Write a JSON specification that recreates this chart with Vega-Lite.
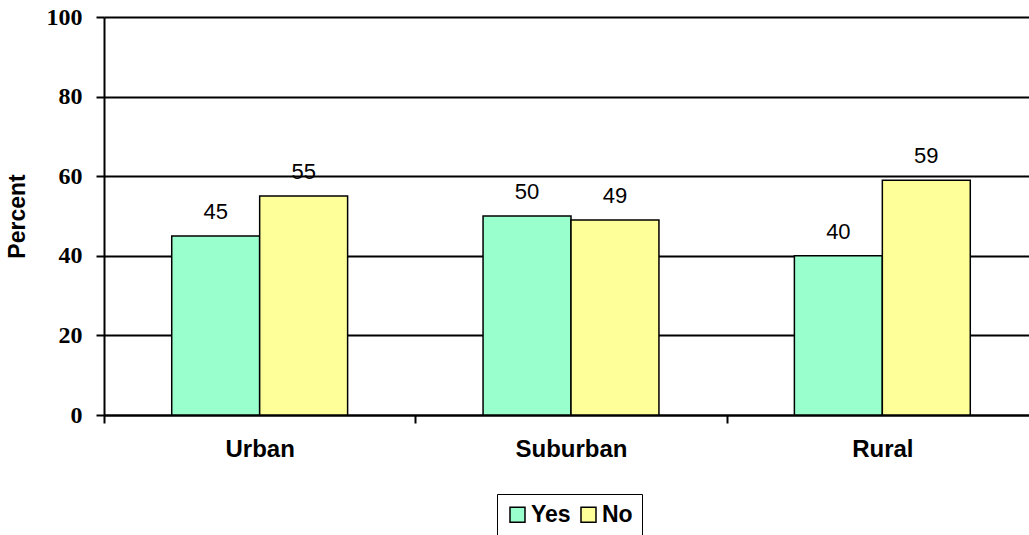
{
  "$schema": "https://vega.github.io/schema/vega-lite/v6.json",
  "autosize": "none",
  "width": 934,
  "height": 398,
  "padding": {"left": 104, "top": 17, "right": 0, "bottom": 120},
  "background": "white",
  "config": {
    "view": {"stroke": null},
    "axis": {"domainColor": "black", "tickColor": "black", "domainWidth": 2, "tickWidth": 2}
  },
  "data": {
    "values": [
      {"area": "Urban", "answer": "Yes", "pct": 45},
      {"area": "Urban", "answer": "No", "pct": 55},
      {"area": "Suburban", "answer": "Yes", "pct": 50},
      {"area": "Suburban", "answer": "No", "pct": 49},
      {"area": "Rural", "answer": "Yes", "pct": 40},
      {"area": "Rural", "answer": "No", "pct": 59}
    ]
  },
  "encoding": {
    "x": {
      "field": "area", "type": "nominal", "sort": ["Urban", "Suburban", "Rural"],
      "scale": {"paddingInner": 0, "paddingOuter": 0},
      "axis": {
        "title": null, "labelAngle": 0, "tickBand": "extent", "tickSize": 8,
        "labelFont": "Liberation Sans", "labelFontWeight": "bold", "labelFontSize": 24,
        "labelColor": "black", "labelPadding": 14
      }
    },
    "xOffset": {
      "field": "answer", "type": "nominal", "sort": ["Yes", "No"],
      "scale": {"paddingInner": 0, "paddingOuter": 0.77}
    },
    "y": {
      "field": "pct", "type": "quantitative",
      "scale": {"domain": [0, 100], "nice": false},
      "axis": {
        "title": "Percent", "values": [0, 20, 40, 60, 80, 100],
        "grid": true, "gridColor": "black", "gridWidth": 2, "gridOpacity": 1,
        "tickSize": 8, "labelPadding": 14,
        "labelFont": "Liberation Serif", "labelFontWeight": "bold", "labelFontSize": 24,
        "labelColor": "black",
        "titleFont": "Liberation Sans", "titleFontWeight": "bold", "titleFontSize": 23,
        "titleColor": "black", "titleX": -87, "titleY": 199, "titleBaseline": "middle", "titleAngle": -90
      }
    }
  },
  "layer": [
    {
      "mark": {"type": "bar", "stroke": "black", "strokeWidth": 1.5},
      "encoding": {
        "color": {
          "field": "answer", "type": "nominal", "sort": ["Yes", "No"],
          "scale": {"domain": ["Yes", "No"], "range": ["#99FFCC", "#FFFF99"]},
          "legend": {
            "title": null, "orient": "none", "direction": "horizontal",
            "legendX": 393, "legendY": 477,
            "strokeColor": "black", "fillColor": "white", "padding": 9,
            "symbolType": "square", "symbolSize": 225, "symbolStrokeColor": "black", "symbolStrokeWidth": 1.5, "symbolOpacity": 1,
            "labelFont": "Liberation Sans", "labelFontWeight": "bold", "labelFontSize": 23, "labelColor": "black",
            "labelOffset": 2, "columnPadding": 6
          }
        }
      }
    },
    {
      "mark": {"type": "text", "baseline": "alphabetic", "dy": -17, "font": "Liberation Sans", "fontSize": 22, "color": "black"},
      "encoding": {"text": {"field": "pct", "type": "quantitative"}}
    }
  ]
}
